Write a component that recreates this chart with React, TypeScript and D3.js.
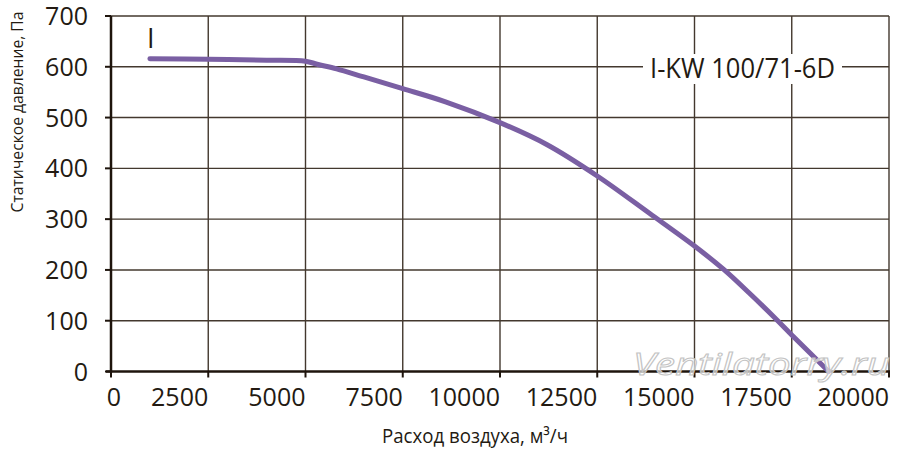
import React, { useEffect, useRef } from 'react';
import * as d3 from 'd3';

// Air flow, m³/h, and static pressure, Pa
const flow = [1000, 2500, 4000, 5000, 5300, 5800, 6500, 7500, 8600, 10000, 11200, 12500, 13850, 15000, 15750, 16400, 17100, 17500, 18450];
const pressure = [616, 615, 613, 611, 605, 596, 580, 557, 531, 490, 447, 385, 311, 247, 201, 155, 103, 72, 0];

const xTicks = [0, 2500, 5000, 7500, 10000, 12500, 15000, 17500, 20000];
const yTicks = [0, 100, 200, 300, 400, 500, 600, 700];

const modelName = 'I-KW 100/71-6D';
const curveName = 'I';
const xTitle = 'Расход воздуха, м³/ч';
const yTitle = 'Статическое давление, Па';
const watermark = 'Ventilatorry.ru';

const width = 900;
const height = 456;
const font = '"Open Sans", sans-serif';
const ink = '#231a12';

const App: React.FC = () => {
    const svgRef = useRef<SVGSVGElement>(null);

    useEffect(() => {
        const svg = d3.select(svgRef.current);
        svg.selectAll('*').remove();

        const x = d3.scaleLinear().domain([0, 20000]).range([111, 889]);
        const y = d3.scaleLinear().domain([0, 700]).range([371.5, 16]);
        const [x0, x1] = x.range();
        const [y0, y1] = y.range();

        svg.append('rect').attr('width', width).attr('height', height).attr('fill', '#fff');

        // grid
        const grid = svg.append('g').attr('stroke', '#43382e').attr('stroke-width', 1.4);
        grid.selectAll('line.v')
            .data(xTicks.slice(1))
            .enter()
            .append('line')
            .attr('x1', d => x(d)).attr('x2', d => x(d))
            .attr('y1', y1).attr('y2', y0);
        grid.selectAll('line.h')
            .data(yTicks.slice(1))
            .enter()
            .append('line')
            .attr('x1', x0).attr('x2', x1)
            .attr('y1', d => y(d)).attr('y2', d => y(d));

        // axis lines and ticks
        const axes = svg.append('g').attr('stroke', '#1e140c');
        axes.append('line').attr('x1', x0).attr('x2', x0).attr('y1', y1).attr('y2', y0 + 1).attr('stroke-width', 2.5);
        axes.append('line').attr('x1', x0 - 5).attr('x2', x1 + 1).attr('y1', y0).attr('y2', y0).attr('stroke-width', 2.5);
        axes.selectAll('line.yt')
            .data(yTicks)
            .enter()
            .append('line')
            .attr('x1', x0 - 6).attr('x2', x0)
            .attr('y1', d => y(d)).attr('y2', d => y(d))
            .attr('stroke-width', 2);
        axes.selectAll('line.xt')
            .data(xTicks)
            .enter()
            .append('line')
            .attr('x1', d => x(d)).attr('x2', d => x(d))
            .attr('y1', y0).attr('y2', y0 + 6)
            .attr('stroke-width', 2);

        // tick labels
        svg.append('g')
            .selectAll('text')
            .data(yTicks)
            .enter()
            .append('text')
            .attr('x', x0 - 23)
            .attr('y', d => y(d))
            .attr('dy', '0.36em')
            .attr('text-anchor', 'end')
            .attr('font-family', font)
            .attr('font-size', 25)
            .attr('fill', ink)
            .text(d => d);

        svg.append('g')
            .selectAll('text')
            .data(xTicks)
            .enter()
            .append('text')
            .attr('x', d => (d === 0 ? x(d) + 3 : x(d)))
            .attr('y', 406)
            .attr('text-anchor', d => (d === 0 ? 'middle' : 'end'))
            .attr('font-family', font)
            .attr('font-size', 25)
            .attr('fill', ink)
            .text(d => d);

        // axis titles
        svg.append('text')
            .attr('x', 475)
            .attr('y', 443)
            .attr('text-anchor', 'middle')
            .attr('font-family', font)
            .attr('font-size', 20)
            .attr('fill', ink)
            .attr('textLength', 186)
            .attr('lengthAdjust', 'spacingAndGlyphs')
            .text(xTitle);

        svg.append('text')
            .attr('transform', 'translate(23,112) rotate(-90)')
            .attr('text-anchor', 'middle')
            .attr('font-family', font)
            .attr('font-size', 17)
            .attr('fill', ink)
            .attr('textLength', 201)
            .attr('lengthAdjust', 'spacingAndGlyphs')
            .text(yTitle);

        // model label with white backing
        svg.append('rect').attr('x', 643).attr('y', 54).attr('width', 199).attr('height', 30).attr('fill', '#fff');
        svg.append('text')
            .attr('x', 742.5)
            .attr('y', 78)
            .attr('text-anchor', 'middle')
            .attr('font-family', font)
            .attr('font-size', 28)
            .attr('fill', ink)
            .attr('textLength', 185)
            .attr('lengthAdjust', 'spacingAndGlyphs')
            .text(modelName);

        // fan curve
        const points: [number, number][] = flow.map((f, i) => [f, pressure[i]]);
        const line = d3.line<[number, number]>()
            .x(d => x(d[0]))
            .y(d => y(d[1]))
            .curve(d3.curveCatmullRom.alpha(0.5));
        svg.append('path')
            .attr('d', line(points))
            .attr('fill', 'none')
            .attr('stroke', '#7a5fa3')
            .attr('stroke-width', 5)
            .attr('stroke-linecap', 'round')
            .attr('stroke-linejoin', 'round');

        svg.append('text')
            .attr('x', x(flow[0]) - 3)
            .attr('y', 48)
            .attr('font-family', font)
            .attr('font-size', 27)
            .attr('fill', ink)
            .text(curveName);

        // watermark
        svg.append('text')
            .attr('x', 633)
            .attr('y', 375)
            .attr('font-family', font)
            .attr('font-style', 'italic')
            .attr('font-size', 31)
            .attr('fill', '#fff')
            .attr('fill-opacity', 0.65)
            .attr('stroke', '#c4c4c4')
            .attr('stroke-width', 1)
            .attr('textLength', 257)
            .attr('lengthAdjust', 'spacingAndGlyphs')
            .text(watermark);
    }, []);

    return (
        <svg
            ref={svgRef}
            width={width}
            height={height}
            style={{ position: 'absolute', left: 0, top: 0 }}
        />
    );
};

export default App;
